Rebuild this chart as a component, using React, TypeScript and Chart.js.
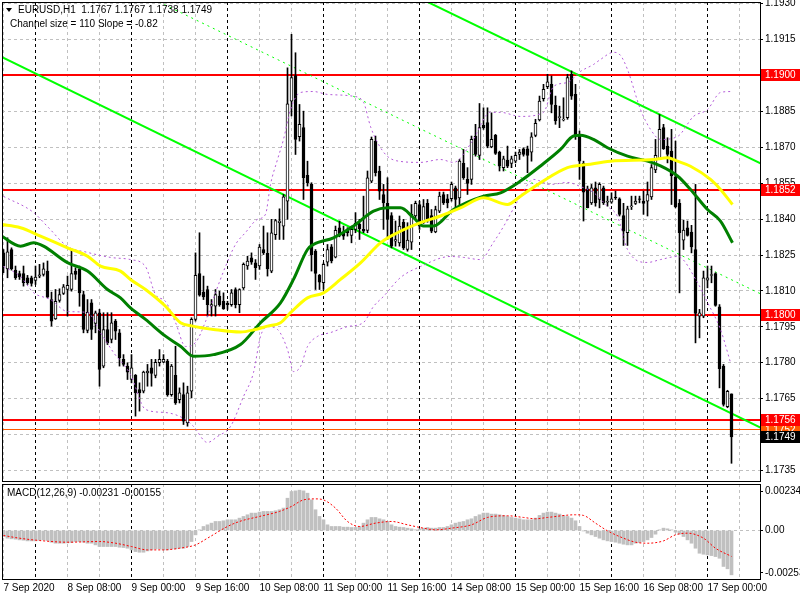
import React, { useEffect, useRef } from "react";
import { Chart, registerables } from "chart.js";

Chart.register(...registerables);

const FONT_FAMILY = "'Liberation Sans', Arial, sans-serif";
const FONT_SIZE = 10;

// ---------- H1 candles, bar 0 = 7 Sep 16:00 ----------
const openPrices = [
  1.18259, 1.18192, 1.18273, 1.18187, 1.18173, 1.18173, 1.18155, 1.18155, 1.18144, 1.18162,
  1.18169, 1.18183, 1.18064, 1.17983, 1.18060, 1.18090, 1.18106, 1.18106, 1.18183, 1.18190,
  1.18085, 1.17935, 1.18050, 1.17964, 1.18009, 1.17786, 1.17939, 1.17897, 1.17974, 1.17925,
  1.17814, 1.17786, 1.17730, 1.17747, 1.17688, 1.17681, 1.17758, 1.17779, 1.17747, 1.17800,
  1.17802, 1.17807, 1.17667, 1.17747, 1.17646, 1.17667, 1.17549, 1.17681, 1.17981, 1.18173,
  1.18095, 1.18106, 1.18036, 1.18036, 1.18078, 1.18057, 1.18048, 1.18043, 1.18106, 1.18043,
  1.18113, 1.18204, 1.18238, 1.18217, 1.18204, 1.18273, 1.18257, 1.18183, 1.18335, 1.18385,
  1.18371, 1.18475, 1.18893, 1.19000, 1.18744, 1.18782, 1.18583, 1.18545, 1.18266, 1.18165,
  1.18134, 1.18220, 1.18284, 1.18241, 1.18364, 1.18343, 1.18357, 1.18332, 1.18357, 1.18378,
  1.18357, 1.18353, 1.18559, 1.18726, 1.18601, 1.18503, 1.18466, 1.18415, 1.18308, 1.18301,
  1.18387, 1.18273, 1.18304, 1.18413, 1.18461, 1.18385, 1.18466, 1.18415, 1.18346, 1.18433,
  1.18503, 1.18485, 1.18485, 1.18531, 1.18489, 1.18633, 1.18566, 1.18566, 1.18747, 1.18666,
  1.18792, 1.18803, 1.18702, 1.18750, 1.18680, 1.18615, 1.18647, 1.18633, 1.18642, 1.18670,
  1.18694, 1.18694, 1.18680, 1.18750, 1.18814, 1.18903, 1.18953, 1.18963, 1.18875, 1.18824,
  1.18814, 1.18824, 1.19005, 1.18921, 1.18747, 1.18633, 1.18527, 1.18468, 1.18531, 1.18482,
  1.18531, 1.18471, 1.18471, 1.18492, 1.18485, 1.18415, 1.18343, 1.18452, 1.18466, 1.18485,
  1.18475, 1.18475, 1.18493, 1.18605, 1.18652, 1.18782, 1.18705, 1.18684, 1.18577, 1.18466,
  1.18312, 1.18364, 1.18346, 1.18273, 1.17995, 1.17995, 1.18145, 1.18165, 1.18173, 1.18034,
  1.17786, 1.17616, 1.17670,
];
const highPrices = [
  1.18273, 1.18322, 1.18280, 1.18204, 1.18183, 1.18204, 1.18165, 1.18162, 1.18204, 1.18211,
  1.18217, 1.18225, 1.18095, 1.18106, 1.18109, 1.18127, 1.18162, 1.18276, 1.18197, 1.18204,
  1.18099, 1.18064, 1.18064, 1.18016, 1.18023, 1.18009, 1.18009, 1.18009, 1.17981, 1.17939,
  1.17834, 1.17800, 1.17834, 1.17751, 1.17716, 1.17765, 1.17793, 1.17814, 1.17814, 1.17855,
  1.17834, 1.17814, 1.17793, 1.17869, 1.17695, 1.17716, 1.17702, 1.17988, 1.18259, 1.18343,
  1.18162, 1.18120, 1.18064, 1.18106, 1.18099, 1.18092, 1.18057, 1.18106, 1.18113, 1.18109,
  1.18217, 1.18245, 1.18259, 1.18231, 1.18294, 1.18371, 1.18343, 1.18399, 1.18399, 1.18443,
  1.18503, 1.19032, 1.19172, 1.19095, 1.18879, 1.18851, 1.18642, 1.18552, 1.18273, 1.18169,
  1.18217, 1.18294, 1.18294, 1.18371, 1.18392, 1.18371, 1.18364, 1.18371, 1.18427, 1.18399,
  1.18496, 1.18601, 1.18743, 1.18747, 1.18621, 1.18545, 1.18573, 1.18427, 1.18392, 1.18413,
  1.18399, 1.18385, 1.18461, 1.18475, 1.18475, 1.18482, 1.18482, 1.18440, 1.18454, 1.18513,
  1.18513, 1.18503, 1.18555, 1.18538, 1.18649, 1.18691, 1.18615, 1.18747, 1.18796, 1.18883,
  1.18865, 1.18865, 1.18844, 1.18754, 1.18684, 1.18663, 1.18705, 1.18663, 1.18680, 1.18691,
  1.18698, 1.18705, 1.18761, 1.18817, 1.18914, 1.18963, 1.19005, 1.18998, 1.18914, 1.18872,
  1.18907, 1.19005, 1.19019, 1.18963, 1.18768, 1.18642, 1.18538, 1.18545, 1.18555, 1.18552,
  1.18538, 1.18496, 1.18510, 1.18517, 1.18489, 1.18466, 1.18454, 1.18496, 1.18496, 1.18496,
  1.18517, 1.18555, 1.18628, 1.18733, 1.18837, 1.18796, 1.18740, 1.18775, 1.18726, 1.18482,
  1.18396, 1.18392, 1.18374, 1.18545, 1.18023, 1.18183, 1.18204, 1.18204, 1.18176, 1.18043,
  1.17793, 1.17685, 1.17670,
];
const lowPrices = [
  1.18176, 1.18155, 1.18187, 1.18148, 1.18148, 1.18120, 1.18127, 1.18120, 1.18127, 1.18155,
  1.18162, 1.18071, 1.17953, 1.17981, 1.18053, 1.18085, 1.17995, 1.18099, 1.18148, 1.18036,
  1.17925, 1.17925, 1.17897, 1.17925, 1.17702, 1.17779, 1.17876, 1.17883, 1.17897, 1.17786,
  1.17786, 1.17730, 1.17716, 1.17577, 1.17598, 1.17674, 1.17702, 1.17702, 1.17737, 1.17786,
  1.17800, 1.17660, 1.17660, 1.17626, 1.17632, 1.17542, 1.17535, 1.17653, 1.17974, 1.18078,
  1.18064, 1.17995, 1.17995, 1.17995, 1.18036, 1.18023, 1.18023, 1.18036, 1.18029, 1.18009,
  1.18106, 1.18190, 1.18211, 1.18148, 1.18190, 1.18252, 1.18162, 1.18176, 1.18315, 1.18315,
  1.18315, 1.18399, 1.18831, 1.18670, 1.18726, 1.18482, 1.18538, 1.18183, 1.18106, 1.18106,
  1.18106, 1.18204, 1.18217, 1.18238, 1.18326, 1.18315, 1.18329, 1.18301, 1.18343, 1.18315,
  1.18343, 1.18343, 1.18552, 1.18580, 1.18482, 1.18357, 1.18315, 1.18280, 1.18287, 1.18287,
  1.18273, 1.18266, 1.18273, 1.18399, 1.18357, 1.18382, 1.18387, 1.18343, 1.18343, 1.18427,
  1.18461, 1.18447, 1.18475, 1.18440, 1.18447, 1.18566, 1.18503, 1.18545, 1.18663, 1.18649,
  1.18775, 1.18698, 1.18698, 1.18670, 1.18601, 1.18601, 1.18615, 1.18615, 1.18635, 1.18649,
  1.18663, 1.18594, 1.18642, 1.18744, 1.18810, 1.18893, 1.18945, 1.18844, 1.18796, 1.18782,
  1.18810, 1.18817, 1.18900, 1.18733, 1.18566, 1.18392, 1.18447, 1.18461, 1.18454, 1.18447,
  1.18461, 1.18454, 1.18466, 1.18482, 1.18413, 1.18290, 1.18290, 1.18440, 1.18461, 1.18468,
  1.18420, 1.18413, 1.18482, 1.18594, 1.18649, 1.18691, 1.18635, 1.18461, 1.18447, 1.18092,
  1.18273, 1.18329, 1.18259, 1.17883, 1.17904, 1.17988, 1.18113, 1.18134, 1.18036, 1.17695,
  1.17619, 1.17612, 1.17380,
];
const closePrices = [
  1.18204, 1.18263, 1.18192, 1.18155, 1.18159, 1.18134, 1.18134, 1.18131, 1.18158, 1.18167,
  1.18192, 1.18074, 1.17974, 1.18057, 1.18085, 1.18117, 1.18123, 1.18173, 1.18169, 1.18092,
  1.17939, 1.18011, 1.17939, 1.18009, 1.17772, 1.17939, 1.17883, 1.17967, 1.17932, 1.17820,
  1.17793, 1.17761, 1.17779, 1.17674, 1.17674, 1.17761, 1.17765, 1.17755, 1.17802, 1.17814,
  1.17814, 1.17667, 1.17786, 1.17632, 1.17674, 1.17556, 1.17674, 1.17981, 1.18165, 1.18082,
  1.18075, 1.18043, 1.18043, 1.18085, 1.18043, 1.18025, 1.18043, 1.18092, 1.18043, 1.18106,
  1.18211, 1.18225, 1.18220, 1.18197, 1.18283, 1.18259, 1.18192, 1.18343, 1.18394, 1.18392,
  1.18493, 1.18882, 1.18991, 1.18733, 1.18796, 1.18573, 1.18552, 1.18252, 1.18173, 1.18137,
  1.18211, 1.18273, 1.18225, 1.18353, 1.18332, 1.18329, 1.18343, 1.18357, 1.18382, 1.18360,
  1.18350, 1.18573, 1.18733, 1.18594, 1.18517, 1.18468, 1.18399, 1.18287, 1.18315, 1.18371,
  1.18280, 1.18312, 1.18420, 1.18466, 1.18371, 1.18452, 1.18396, 1.18350, 1.18440, 1.18496,
  1.18468, 1.18468, 1.18545, 1.18482, 1.18642, 1.18573, 1.18549, 1.18733, 1.18670, 1.18782,
  1.18782, 1.18705, 1.18733, 1.18674, 1.18621, 1.18652, 1.18621, 1.18652, 1.18666, 1.18680,
  1.18670, 1.18666, 1.18744, 1.18800, 1.18893, 1.18942, 1.18973, 1.18879, 1.18810, 1.18828,
  1.18817, 1.18991, 1.18914, 1.18747, 1.18642, 1.18513, 1.18447, 1.18531, 1.18468, 1.18545,
  1.18468, 1.18474, 1.18485, 1.18489, 1.18420, 1.18350, 1.18443, 1.18455, 1.18475, 1.18482,
  1.18466, 1.18503, 1.18615, 1.18666, 1.18775, 1.18694, 1.18670, 1.18580, 1.18452, 1.18343,
  1.18354, 1.18332, 1.18284, 1.18006, 1.18009, 1.18155, 1.18155, 1.18168, 1.18039, 1.17775,
  1.17626, 1.17681, 1.17490,
];

// ---------- indicator lines: [bar index, price] ----------
const maYellow = [
  [-0.75, 1.18378], [4.25, 1.18364], [9.25, 1.18329], [16, 1.1828], [21, 1.18245], [24.25, 1.18204],
  [29.25, 1.18183], [31.75, 1.18148], [35.5, 1.18106], [40.5, 1.18036], [44.25, 1.17967], [47.25, 1.17953],
  [52.5, 1.17939], [59.25, 1.17928], [63, 1.17939], [66, 1.17953], [69.25, 1.17967], [71.75, 1.18009],
  [76, 1.18071], [80, 1.18092], [84.25, 1.18148], [89.25, 1.18217], [94.25, 1.18301], [98.5, 1.18343],
  [104.25, 1.18385], [109.25, 1.18413], [114.25, 1.18447], [120, 1.18489], [126, 1.18461], [129.25, 1.18496],
  [134.25, 1.18552], [141, 1.18615], [146, 1.18628], [151.75, 1.18642], [162.5, 1.18649], [166, 1.18656],
  [168.5, 1.18642], [171.75, 1.18621], [176.75, 1.18566], [179.25, 1.18524], [182.25, 1.18461],
];
const maGreen = [
  [-0.75, 1.18332], [4.25, 1.18287], [7.5, 1.18301], [10, 1.18287], [16, 1.18218], [21, 1.18183],
  [26, 1.18106], [29.25, 1.18071], [31.75, 1.18029], [35.5, 1.17981], [40.5, 1.17911], [44.25, 1.17869],
  [47.5, 1.17827], [52.5, 1.17834], [59.25, 1.17876], [64.25, 1.17967], [69.25, 1.1805], [72.5, 1.18148],
  [76, 1.18273], [77.5, 1.18294], [82.5, 1.18322], [87.5, 1.18371], [92.5, 1.18433], [96, 1.18447],
  [99.25, 1.18447], [102.5, 1.18406], [105, 1.18371], [107.5, 1.18371], [112.5, 1.1844], [120, 1.18496],
  [124.25, 1.1851], [129.25, 1.18559], [134.25, 1.18622], [139.25, 1.18691], [142.5, 1.18747], [144.25, 1.1875],
  [147.5, 1.18733], [151, 1.18698], [156, 1.18663], [161, 1.18642], [164.25, 1.18622], [168.5, 1.1858],
  [171.75, 1.18524], [176, 1.1844], [179.25, 1.18392], [182.25, 1.18301],
];
const bandUpper = [
  [0, 1.18495], [7.5, 1.18428], [11, 1.18369], [16, 1.18286], [21, 1.18261], [26.75, 1.1824], [31.75, 1.18231],
  [35.5, 1.18202], [38, 1.18085], [40.5, 1.18056], [43, 1.17968], [45.5, 1.17868], [48, 1.17884], [50.5, 1.17972],
  [53, 1.18093], [55.5, 1.18202], [58, 1.18294], [60.5, 1.18344], [63.5, 1.18399], [65.5, 1.1842], [66.75, 1.18545],
  [68.5, 1.18649], [70, 1.18733], [71.75, 1.18858], [74.25, 1.18929], [77.5, 1.18933], [81, 1.18921], [87.5, 1.18913],
  [90, 1.18888], [91.75, 1.18787], [93.5, 1.1872], [96, 1.18662], [99.25, 1.18641], [104.25, 1.18637], [109.25, 1.18649],
  [112.5, 1.18637], [117, 1.1872], [121.75, 1.18846], [124.25, 1.18846], [129.25, 1.18829], [135, 1.18846], [137.5, 1.18954],
  [141, 1.18971], [144.25, 1.19017], [147.5, 1.19046], [149.25, 1.19067], [152.5, 1.19097], [154.25, 1.19084], [156, 1.19025],
  [159.25, 1.18858], [161.75, 1.18775], [164.25, 1.18733], [168.5, 1.18745], [172.5, 1.18829], [176, 1.18858], [179.25, 1.18929],
  [181.75, 1.18933],
];
const bandLower = [
  [0, 1.18202], [4.25, 1.1816], [7.5, 1.18093], [11.75, 1.18064], [16, 1.18014], [21, 1.1801], [24.25, 1.17926],
  [27.5, 1.17843], [31.75, 1.17751], [35.5, 1.17605], [40.5, 1.17592], [45.5, 1.17563], [47.5, 1.17534], [51, 1.17467],
  [53.5, 1.17492], [56.75, 1.17534], [60, 1.17659], [62.5, 1.17759], [64.25, 1.1791], [66, 1.17951], [68.5, 1.17939],
  [71, 1.17855], [72.5, 1.17763], [74.25, 1.17784], [76, 1.17868], [78.5, 1.1791], [81.75, 1.17926], [86, 1.17951],
  [90, 1.17968], [92.5, 1.18035], [95, 1.18077], [99.25, 1.18156], [104.25, 1.18202], [111.75, 1.18244], [115, 1.1824],
  [119.25, 1.18231], [122.5, 1.18303], [125, 1.18369], [129.25, 1.18495], [132.5, 1.18566], [136.75, 1.18545], [141, 1.18553],
  [144.25, 1.18536], [147.5, 1.18511], [151, 1.18453], [153.5, 1.18411], [156, 1.18273], [161, 1.18219], [164.25, 1.18231],
  [168.5, 1.18244], [173.5, 1.18135], [176, 1.18052], [179.25, 1.17939], [181.75, 1.17801],
];
const channelUpper = [[100, 1.19356], [189.25, 1.18633]];
const channelLower = [[-0.75, 1.1908], [189.25, 1.17529]];
const channelMiddle = [[37.5, 1.19318], [189.25, 1.18088]];

// ---------- horizontal levels & price labels ----------
const levelPrices = [1.19, 1.1852, 1.18, 1.1756];
const askPrice = 1.1752;
const bidPrice = 1.1749;
const priceTicks = [1.1735, 1.175, 1.1765, 1.178, 1.1795, 1.181, 1.1825, 1.184, 1.1855, 1.187, 1.1885, 1.19, 1.1915, 1.193];

// ---------- time axis ----------
const timeLabels = [
  "7 Sep 2020", "8 Sep 08:00", "9 Sep 00:00", "9 Sep 16:00", "10 Sep 08:00", "11 Sep 00:00",
  "11 Sep 16:00", "14 Sep 08:00", "15 Sep 00:00", "15 Sep 16:00", "16 Sep 08:00", "17 Sep 00:00",
];
const gridBars = [0, 8, 16, 24, 32, 40, 48, 56, 64, 72, 80, 88, 96, 104, 112, 120, 128, 136, 144, 152, 160, 168, 176, 184];

// ---------- MACD(12,26,9) ----------
const macdMain = [
  -0.00036, -0.00046, -0.0005, -0.00052, -0.00056, -0.00058, -0.00062, -0.00062, -0.00062, -0.00058,
  -0.00056, -0.0006, -0.0007, -0.00076, -0.00076, -0.00076, -0.00074, -0.00072, -0.00066, -0.00066,
  -0.0007, -0.00076, -0.00076, -0.00086, -0.00096, -0.00096, -0.00096, -0.00096, -0.00096, -0.001,
  -0.00102, -0.00106, -0.00116, -0.00126, -0.0013, -0.0013, -0.00122, -0.00116, -0.0011, -0.0011,
  -0.00116, -0.00116, -0.0011, -0.0011, -0.00106, -0.00106, -0.00096, -0.00066, -0.00026, 0.00004,
  0.00024, 0.00034, 0.00044, 0.00054, 0.00054, 0.00058, 0.00064, 0.00064, 0.00064, 0.00074,
  0.00084, 0.00094, 0.00104, 0.00104, 0.0011, 0.00114, 0.00114, 0.00114, 0.00118, 0.00124,
  0.00134, 0.00193, 0.00233, 0.00237, 0.00241, 0.00237, 0.00223, 0.00183, 0.00124, 0.00084,
  0.00064, 0.00034, 0.00024, 0.00024, 0.00024, 0.0002, 0.0002, 0.00018, 0.00018, 0.00024,
  0.00044, 0.00064, 0.00078, 0.00078, 0.0007, 0.00064, 0.00054, 0.00034, 0.00024, 0.0002,
  0.00018, 0.00014, 0.0001, 0.00004, 0.0001, 0.00014, 0.00018, 0.00014, 0.00014, 0.00018,
  0.00018, 0.00024, 0.00034, 0.00044, 0.0005, 0.00054, 0.00064, 0.0007, 0.00084, 0.00094,
  0.00104, 0.00104, 0.00098, 0.00098, 0.00094, 0.0009, 0.00084, 0.00078, 0.00074, 0.0007,
  0.00064, 0.00064, 0.00064, 0.00074, 0.0009, 0.00104, 0.0011, 0.0011, 0.00104, 0.00098,
  0.0009, 0.00084, 0.00074, 0.00058, 0.00024, -0.00002, -0.00016, -0.00026, -0.00036, -0.00046,
  -0.00056, -0.00062, -0.00066, -0.0007, -0.00076, -0.00082, -0.00086, -0.00086, -0.00076, -0.00072,
  -0.00066, -0.00056, -0.00042, -0.00022, 0.00004, 0.00014, 0.0001, 0.00004, -0.0001, -0.00022,
  -0.00036, -0.00056, -0.00076, -0.00106, -0.00136, -0.00142, -0.00146, -0.0015, -0.00156, -0.00166,
  -0.00215, -0.00229, -0.00265,
];
const macdSignal = [
  [0, -0.0003], [4, -0.00046], [9, -0.0006], [16, -0.0007], [24, -0.00066], [28, -0.00076], [32, -0.00096],
  [36, -0.00116], [40, -0.00116], [44, -0.00106], [48, -0.00086], [51, -0.00046], [56, 0.00024], [59, 0.00054],
  [64, 0.00084], [69, 0.00114], [72, 0.00144], [75, 0.00183], [78, 0.00189], [80, 0.00183], [83, 0.00134],
  [86, 0.00054], [89, 0.00024], [93, 0.00044], [97, 0.00054], [101, 0.00034], [105, 0.00014], [108, 0.00004],
  [112, 0.00014], [117, 0.00034], [121, 0.00078], [126, 0.00088], [130, 0.00078], [133, 0.0007], [136, 0.00078],
  [143, 0.00094], [145, 0.0009], [148, 0.00044], [151, -0.00002], [155, -0.00046], [158, -0.0007], [161, -0.00076],
  [165, -0.00062], [168, -0.00026], [171, -0.00016], [175, -0.00046], [178, -0.00106], [182, -0.00155],
];
const macdTicks = [-0.00253, 0, 0.00234];

const X_MIN = -0.375;
const X_MAX = 189.125;
const FONT = `${FONT_SIZE}px ${FONT_FAMILY}`;

const pts = (arr: number[][]) => arr.map(([x, y]) => ({ x, y }));

const gridColor = (ctx: any) => {
  const v = ctx.tick ? ctx.tick.value : -1;
  return (v - 8) % 24 === 0 ? "#000000" : "#c0c0c0";
};

function xScale(showLabels: boolean, height: number) {
  return {
    type: "linear",
    min: X_MIN,
    max: X_MAX,
    offset: false,
    afterBuildTicks: (s: any) => {
      s.ticks = gridBars.map((v) => ({ value: v }));
    },
    afterFit: (s: any) => {
      s.height = height;
      s.paddingLeft = 0;
      s.paddingRight = 0;
    },
    grid: { color: gridColor, lineWidth: 1, drawTicks: false, offset: false },
    border: { display: false, dash: [3, 3] },
    ticks: {
      display: showLabels,
      autoSkip: false,
      maxRotation: 0,
      minRotation: 0,
      align: "start",
      padding: 3,
      color: "#000",
      font: { family: FONT_FAMILY, size: FONT_SIZE },
      callback: (v: number) => (v % 16 === 0 ? timeLabels[v / 16] ?? "" : ""),
    },
  };
}

const lineDs = (data: number[][], color: string, width: number, order: number, dash: number[] = [], smooth = true) => ({
  type: "line",
  data: pts(data),
  borderColor: color,
  borderWidth: width,
  borderDash: dash,
  pointRadius: 0,
  fill: false,
  order,
  cubicInterpolationMode: smooth ? "monotone" : "default",
  tension: 0,
});

const mainOverlay = {
  id: "mainOverlay",
  beforeDatasetsDraw(chart: any) {
    const { ctx, chartArea: a, scales } = chart;
    const y = scales.y;
    ctx.save();
    ctx.beginPath();
    ctx.rect(a.left, a.top, a.right - a.left, a.bottom - a.top);
    ctx.clip();
    ctx.fillStyle = "#ff5a00";
    ctx.fillRect(a.left, Math.round(y.getPixelForValue(askPrice) - 0.5), a.right - a.left, 1);
    ctx.fillStyle = "#ff0000";
    levelPrices.forEach((p) => {
      const py = Math.round(y.getPixelForValue(p));
      ctx.fillRect(a.left, py - 1, a.right - a.left, 2);
    });
    ctx.restore();
  },
  afterDraw(chart: any) {
    const { ctx, chartArea: a, scales } = chart;
    const y = scales.y;
    ctx.save();
    ctx.strokeStyle = "#000";
    ctx.lineWidth = 1;
    ctx.strokeRect(a.left + 0.5, a.top + 0.5, a.right - a.left, a.bottom - a.top);
    const boxes = [
      { p: askPrice, c: "#ff5a00" },
      ...levelPrices.map((p) => ({ p, c: "#ff0000" })),
      { p: bidPrice, c: "#000000" },
    ];
    ctx.font = FONT;
    ctx.textBaseline = "middle";
    ctx.textAlign = "left";
    boxes.forEach((b) => {
      const yc = Math.round(y.getPixelForValue(b.p));
      ctx.fillStyle = b.c;
      ctx.fillRect(a.right + 1, yc - 6, 40, 12);
      ctx.fillStyle = "#fff";
      ctx.fillText(b.p.toFixed(4), a.right + 5, yc + 0.5);
    });
    ctx.restore();
  },
};

const frameOverlay = {
  id: "frameOverlay",
  afterDraw(chart: any) {
    const { ctx, chartArea: a } = chart;
    ctx.save();
    ctx.strokeStyle = "#000";
    ctx.lineWidth = 1;
    ctx.strokeRect(a.left + 0.5, a.top + 0.5, a.right - a.left, a.bottom - a.top);
    ctx.restore();
  },
};

export default function App() {
  const mainRef = useRef<HTMLCanvasElement>(null);
  const macdRef = useRef<HTMLCanvasElement>(null);

  useEffect(() => {
    const candleBodies = openPrices.map((o, i) => ({ x: i, y: [o, closePrices[i]] }));
    const candleWicks = lowPrices.map((l, i) => ({ x: i, y: [l, highPrices[i]] }));

    const main = new Chart(mainRef.current as HTMLCanvasElement, {
      type: "bar",
      data: {
        datasets: [
          lineDs(maYellow, "#ffff00", 3, 1),
          lineDs(maGreen, "#008000", 3, 2),
          lineDs(bandUpper, "#b35ad8", 1, 3, [2, 3]),
          lineDs(bandLower, "#b35ad8", 1, 4, [2, 3]),
          {
            type: "bar",
            data: candleBodies,
            backgroundColor: (ctx: any) =>
              closePrices[ctx.dataIndex] >= openPrices[ctx.dataIndex] ? "#ffffff" : "#000000",
            borderColor: "#000000",
            borderWidth: 1,
            borderSkipped: false,
            barThickness: 3,
            grouped: false,
            order: 5,
          },
          {
            type: "bar",
            data: candleWicks,
            backgroundColor: "#000000",
            borderWidth: 0,
            barThickness: 1,
            grouped: false,
            order: 6,
          },
          lineDs(channelUpper, "#00ff00", 2, 7, [], false),
          lineDs(channelLower, "#00ff00", 2, 8, [], false),
          lineDs(channelMiddle, "#00ff00", 1, 9, [2, 4], false),
        ] as any,
      },
      options: {
        responsive: false,
        animation: false,
        devicePixelRatio: 1,
        events: [],
        layout: { padding: { left: 2, top: 2, right: 0, bottom: 2 } },
        plugins: { legend: { display: false }, tooltip: { enabled: false } },
        scales: {
          x: xScale(false, 0) as any,
          y: {
            type: "linear",
            position: "right",
            min: 1.17306,
            max: 1.19307,
            afterBuildTicks: (s: any) => {
              s.ticks = priceTicks.map((v) => ({ value: v }));
            },
            afterFit: (s: any) => {
              s.width = 40;
              s.paddingTop = 0;
              s.paddingBottom = 0;
            },
            grid: { color: "#c0c0c0", lineWidth: 1, drawTicks: true, tickLength: 3, tickColor: "#000" },
            border: { display: false, dash: [3, 3] },
            ticks: {
              autoSkip: false,
              padding: 2,
              color: "#000",
              font: { family: FONT_FAMILY, size: FONT_SIZE },
              callback: (v: number) => v.toFixed(4),
            },
          },
        },
      } as any,
      plugins: [mainOverlay],
    });

    const macd = new Chart(macdRef.current as HTMLCanvasElement, {
      type: "bar",
      data: {
        datasets: [
          lineDs(macdSignal, "#ff0000", 1, 1, [2, 2]),
          {
            type: "bar",
            data: macdMain.map((v, i) => ({ x: i, y: v })),
            backgroundColor: "#c0c0c0",
            borderWidth: 0,
            barThickness: 3,
            grouped: false,
            order: 2,
          },
        ] as any,
      },
      options: {
        responsive: false,
        animation: false,
        devicePixelRatio: 1,
        events: [],
        layout: { padding: { left: 2, top: 1, right: 0, bottom: 0 } },
        plugins: { legend: { display: false }, tooltip: { enabled: false } },
        scales: {
          x: xScale(true, 21) as any,
          y: {
            type: "linear",
            position: "right",
            min: -0.0029,
            max: 0.00278,
            afterBuildTicks: (s: any) => {
              s.ticks = macdTicks.map((v) => ({ value: v }));
            },
            afterFit: (s: any) => {
              s.width = 40;
              s.paddingTop = 0;
              s.paddingBottom = 0;
            },
            grid: {
              color: (ctx: any) => (ctx.tick && ctx.tick.value === 0 ? "#c0c0c0" : "rgba(0,0,0,0)"),
              lineWidth: 1,
              drawTicks: true,
              tickLength: 3,
              tickColor: "#000",
            },
            border: { display: false, dash: [3, 3] },
            ticks: {
              autoSkip: false,
              padding: 2,
              color: "#000",
              font: { family: FONT_FAMILY, size: FONT_SIZE },
              callback: (v: number) => (v === 0 ? "0.00" : v.toFixed(5)),
            },
          },
        },
      } as any,
      plugins: [frameOverlay],
    });

    return () => {
      main.destroy();
      macd.destroy();
    };
  }, []);

  const textStyle: React.CSSProperties = {
    position: "absolute",
    fontFamily: FONT_FAMILY,
    fontSize: FONT_SIZE,
    lineHeight: "12px",
    color: "#000",
    whiteSpace: "pre",
  };

  return (
    <div style={{ position: "fixed", left: 0, top: 0, width: 800, height: 600, background: "#fff", overflow: "hidden" }}>
      <canvas ref={mainRef} width={800} height={483} style={{ position: "absolute", left: 0, top: 0 }} />
      <canvas ref={macdRef} width={800} height={117} style={{ position: "absolute", left: 0, top: 483 }} />
      <div
        style={{
          position: "absolute",
          left: 6,
          top: 8,
          width: 0,
          height: 0,
          borderLeft: "3.5px solid transparent",
          borderRight: "3.5px solid transparent",
          borderTop: "4px solid #000",
        }}
      />
      <div style={{ ...textStyle, left: 18, top: 4 }}>EURUSD,H1  1.1767 1.1767 1.1738 1.1749</div>
      <div style={{ ...textStyle, left: 10, top: 18 }}>Channel size = 110 Slope = -0.82</div>
      <div style={{ ...textStyle, left: 7, top: 487 }}>MACD(12,26,9) -0.00231 -0.00155</div>
    </div>
  );
}
